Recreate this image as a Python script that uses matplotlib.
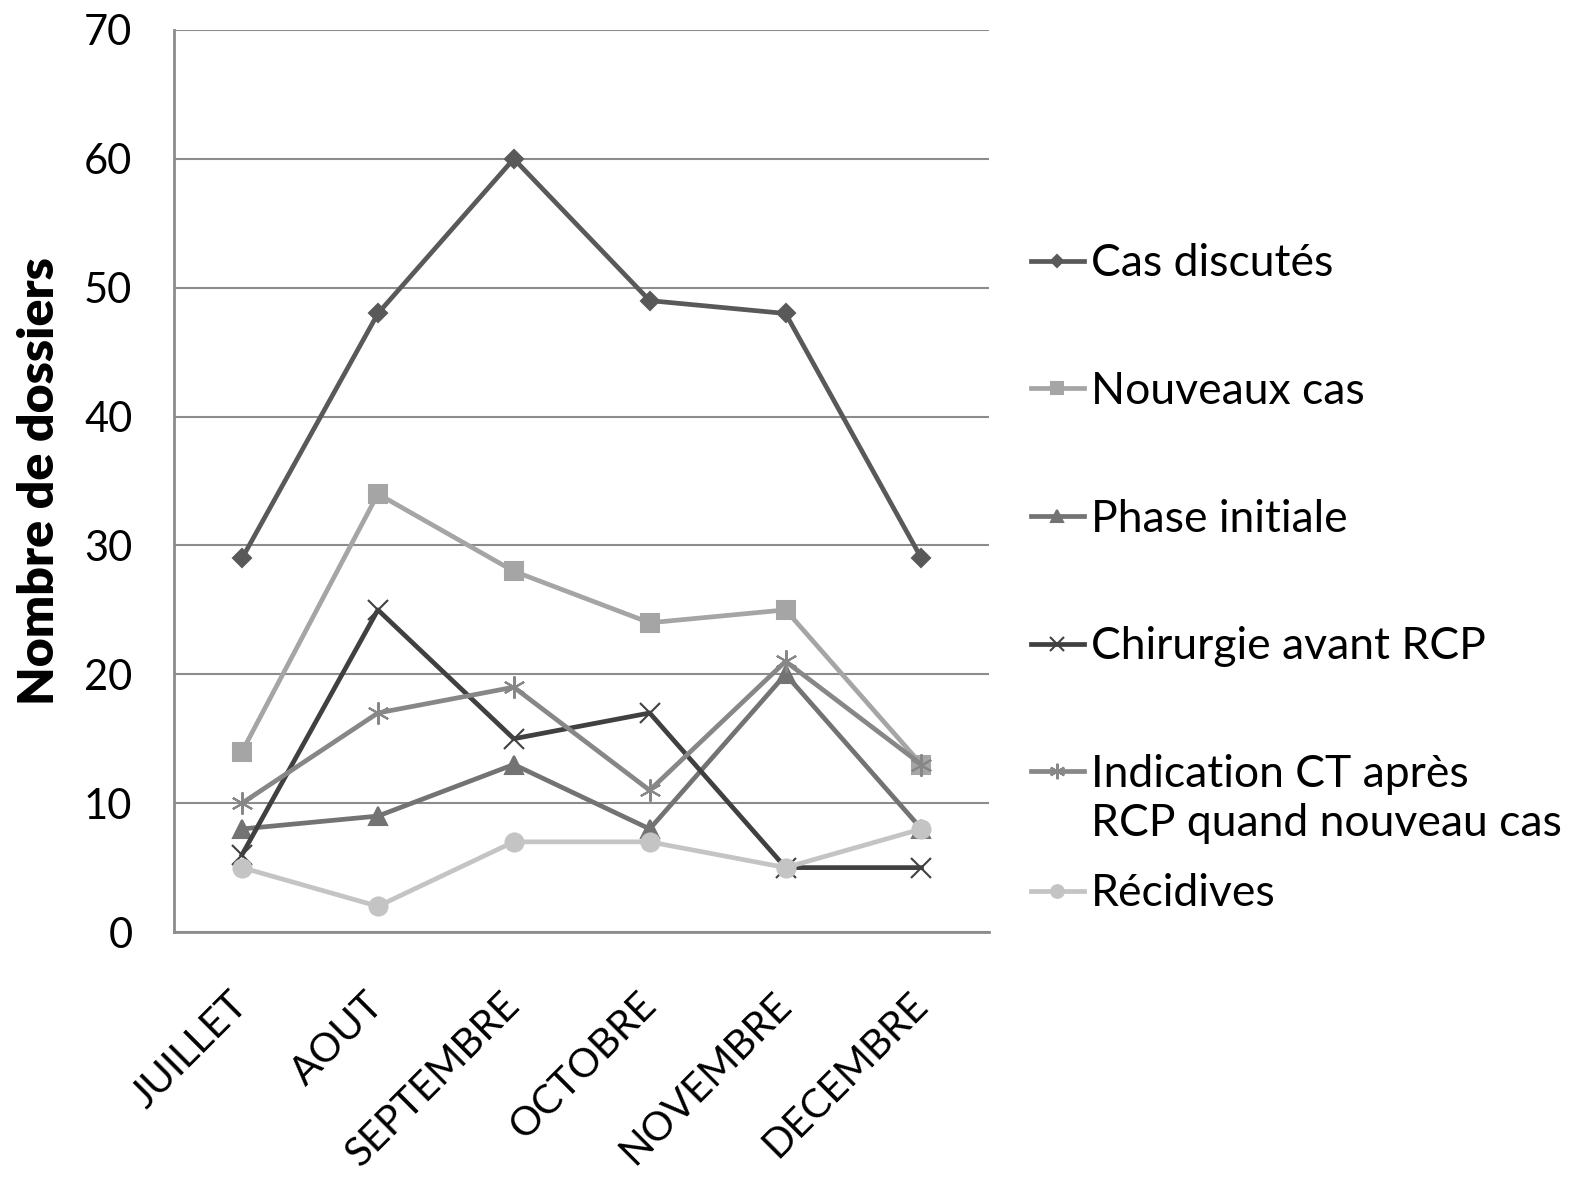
import matplotlib.pyplot as plt
from matplotlib.lines import Line2D

plt.rcParams['font.family'] = ['Lato', 'DejaVu Sans']

# data
months = ['JUILLET', 'AOUT', 'SEPTEMBRE', 'OCTOBRE', 'NOVEMBRE', 'DECEMBRE']
cas_discutes = [29, 48, 60, 49, 48, 29]
nouveaux_cas = [14, 34, 28, 24, 25, 13]
phase_initiale = [8, 9, 13, 8, 20, 8]
chirurgie = [6, 25, 15, 17, 5, 5]
indication_ct = [10, 17, 19, 11, 21, 13]
recidives = [5, 2, 7, 7, 5, 8]

series = [
    ('Cas discutés', cas_discutes, '#595959', 'D', 9),
    ('Nouveaux cas', nouveaux_cas, '#a5a5a5', 's', 13),
    ('Phase initiale', phase_initiale, '#737373', '^', 13),
    ('Chirurgie avant RCP', chirurgie, '#404040', 'x', 14),
    ('Indication CT après\nRCP quand nouveau cas', indication_ct, '#878787', (6, 2, 0), 16),
    ('Récidives', recidives, '#c4c4c4', 'o', 13),
]

fig = plt.figure(figsize=(15.71, 11.81), dpi=100)
ax = fig.add_axes([0.1108, 0.2108, 0.519, 0.7638])

x = range(len(months))
handles = []
for label, vals, color, marker, ms in series:
    ln, = ax.plot(x, vals, color=color, lw=3.4, marker=marker, markersize=ms,
                  markeredgecolor=color, markerfacecolor=color, mew=1.5,
                  label=label)
    handles.append(ln)

ax.set_xlim(-0.5, len(months) - 0.5)
ax.set_ylim(0, 70)
ax.set_yticks(range(0, 71, 10))
ax.yaxis.grid(True, color='#8c8c8c', lw=1.5)
ax.set_axisbelow(True)
for s in ['top', 'right']:
    ax.spines[s].set_visible(False)
for s in ['left', 'bottom']:
    ax.spines[s].set_color('#8c8c8c')
    ax.spines[s].set_linewidth(2)

ax.tick_params(axis='y', length=0, pad=30, labelsize=30)
ax.tick_params(axis='x', length=0, pad=48, labelsize=29)
ax.set_xticks(list(x))
ax.set_xticklabels(months, rotation=45, ha='right', va='center',
                   rotation_mode='anchor')
ax.set_ylabel('Nombre de dossiers', fontsize=36, fontweight='heavy', labelpad=16)

# legend: the two-line label is split so its handle sits on the first line
first_lines = [s[0].split('\n')[0] for s in series[:5]]
second_line = series[4][0].split('\n')[1]
blank = Line2D([], [], linestyle='none', marker='none')

leg_kw = dict(frameon=False, fontsize=32, handlelength=1.2, handletextpad=0.15,
              markerscale=0.7, borderaxespad=0, borderpad=0)
leg1 = fig.legend(handles[:5], first_lines, loc='upper left',
                  bbox_to_anchor=(0.656, 0.794), labelspacing=1.95, **leg_kw)
leg2 = fig.legend([blank, handles[5]], [second_line, series[5][0]],
                  loc='upper left', bbox_to_anchor=(0.656, 0.320),
                  labelspacing=0.66, **leg_kw)

fig.savefig('out.png', dpi=100)
